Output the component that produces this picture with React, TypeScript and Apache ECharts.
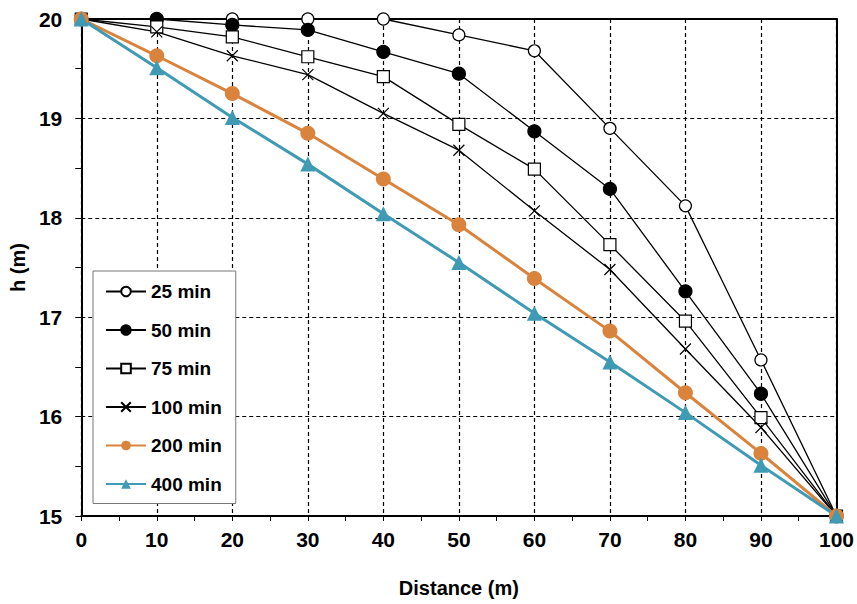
import React, { useEffect, useRef } from "react";
import * as echarts from "echarts";

const distance = [0, 10, 20, 30, 40, 50, 60, 70, 80, 90, 100];
const h25 = [20, 20, 20, 20, 20, 19.84, 19.68, 18.9, 18.12, 16.57, 15];
const h50 = [20, 20, 19.94, 19.89, 19.67, 19.45, 18.87, 18.29, 17.26, 16.23, 15];
const h75 = [20, 19.92, 19.82, 19.62, 19.42, 18.94, 18.49, 17.73, 16.96, 15.99, 15];
const h100 = [20, 19.87, 19.63, 19.44, 19.05, 18.68, 18.07, 17.48, 16.68, 15.89, 15];
const h200 = [20, 19.63, 19.25, 18.85, 18.39, 17.93, 17.39, 16.86, 16.24, 15.63, 15];
const h400 = [20, 19.51, 19.01, 18.54, 18.04, 17.55, 17.04, 16.55, 16.04, 15.51, 15];
const seriesNames = ["25 min", "50 min", "75 min", "100 min", "200 min", "400 min"];

const FONT = "'Liberation Sans', Arial, sans-serif";

export default function App() {
  const ref = useRef<HTMLDivElement>(null);
  useEffect(() => {
    if (!ref.current) return;
    const chart = echarts.init(ref.current, undefined, { renderer: "svg" });
    const pairs = (arr: number[]) => distance.map((d, i) => [d, arr[i]]);
    const blackLine = (name: string, arr: number[], symbol: string, size: number, fill: string) => ({
      name,
      type: "line",
      data: pairs(arr),
      symbol,
      symbolSize: size,
      showAllSymbol: true,
      clip: false,
      lineStyle: { color: "#000", width: 1.3 },
      itemStyle: { color: fill, borderColor: "#000", borderWidth: 1.2 },
      z: 3,
    });
    const colorLine = (name: string, arr: number[], symbol: string, size: number, color: string) => ({
      name,
      type: "line",
      data: pairs(arr),
      symbol,
      symbolSize: size,
      clip: false,
      lineStyle: { color, width: 3 },
      itemStyle: { color, borderWidth: 0 },
      z: 4,
    });
    const gridLine = { show: true, lineStyle: { color: "#000", type: [4, 3], width: 1.2 } };
    chart.setOption({
      animation: false,
      backgroundColor: "#fff",
      textStyle: { fontFamily: FONT },
      grid: { left: 81, top: 19, right: 20, bottom: 88 },
      legend: {
        orient: "vertical",
        left: 93,
        top: 271,
        itemWidth: 40,
        itemHeight: 12,
        itemGap: 19.5,
        padding: [11, 14, 10, 12],
        backgroundColor: "#fff",
        borderColor: "#777",
        borderWidth: 1,
        textStyle: { fontFamily: FONT, fontWeight: "bold", fontSize: 19, color: "#000", padding: [0, 0, 0, 0] },
        data: seriesNames,
      },
      xAxis: [
        {
          type: "value",
          min: 0,
          max: 100,
          interval: 10,
          name: "Distance (m)",
          nameLocation: "middle",
          nameGap: 62,
          nameTextStyle: { fontFamily: FONT, fontWeight: "bold", fontSize: 20, color: "#000" },
          axisLine: { show: true, lineStyle: { color: "#000", width: 2 } },
          axisTick: { show: true, inside: false, length: 5, lineStyle: { color: "#000" } },
          minorTick: { show: true, splitNumber: 2, length: 5, lineStyle: { color: "#000" } },
          axisLabel: { margin: 13, fontFamily: FONT, fontWeight: "bold", fontSize: 21, color: "#000" },
          splitLine: gridLine,
        },
        {
          type: "value",
          position: "top",
          min: 0,
          max: 100,
          axisLine: { show: true, onZero: false, lineStyle: { color: "#000", width: 2 } },
          axisTick: { show: false },
          axisLabel: { show: false },
          splitLine: { show: false },
        },
      ],
      yAxis: [
        {
          type: "value",
          min: 15,
          max: 20,
          interval: 1,
          name: "h (m)",
          nameLocation: "middle",
          nameGap: 49,
          nameTextStyle: { fontFamily: FONT, fontWeight: "bold", fontSize: 20, color: "#000" },
          axisLine: { show: true, onZero: false, lineStyle: { color: "#000", width: 2 } },
          axisTick: { show: true, inside: false, length: 6, lineStyle: { color: "#000" } },
          minorTick: { show: true, splitNumber: 2, length: 6, lineStyle: { color: "#000" } },
          axisLabel: { margin: 19, fontFamily: FONT, fontWeight: "bold", fontSize: 21, color: "#000" },
          splitLine: gridLine,
        },
        {
          type: "value",
          position: "right",
          min: 15,
          max: 20,
          axisLine: { show: true, onZero: false, lineStyle: { color: "#000", width: 2 } },
          axisTick: { show: false },
          axisLabel: { show: false },
          splitLine: { show: false },
        },
      ],
      series: [
        blackLine(seriesNames[0], h25, "circle", 12, "#fff"),
        blackLine(seriesNames[1], h50, "circle", 13, "#000"),
        blackLine(seriesNames[2], h75, "rect", 12, "#fff"),
        {
          ...blackLine(seriesNames[3], h100, "path://M0,0L10,10M10,0L0,10", 11, "none"),
          itemStyle: { color: "none", borderColor: "#000", borderWidth: 1.2 },
        },
        colorLine(seriesNames[4], h200, "circle", 15, "#D9833C"),
        colorLine(seriesNames[5], h400, "triangle", 15, "#3F9AB3"),
      ],
    });
    return () => chart.dispose();
  }, []);
  return (
    <div
      ref={ref}
      style={{ position: "fixed", left: 0, top: 0, width: 857, height: 604 }}
    />
  );
}
